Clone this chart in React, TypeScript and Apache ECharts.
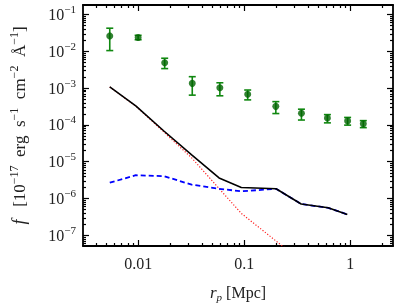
import React, { useEffect, useRef } from "react";
import * as echarts from "echarts";

// Observed data (r_p in Mpc, f in 1e-17 erg/s/cm^2/Å)
const rpObs = [0.0054, 0.01, 0.0178, 0.0324, 0.059, 0.108, 0.199, 0.347, 0.61, 0.946, 1.33];
const fObs = [0.0263, 0.0238, 0.00493, 0.00135, 0.00102, 0.000686, 0.00032, 0.000207, 0.000154, 0.000129, 0.000107];
const fLo = [0.0105, 0.0207, 0.0034, 0.000646, 0.00062, 0.00048, 0.000204, 0.000136, 0.000114, 0.0000989, 0.0000845];
const fHi = [0.0426, 0.0273, 0.0065, 0.00205, 0.0014, 0.00089, 0.00043, 0.000268, 0.000191, 0.00016, 0.000131];

// Model curves
const rpModel = [0.0054, 0.0095, 0.0175, 0.032, 0.058, 0.094, 0.2, 0.345, 0.62, 0.94];
const fTotal = [1.08e-3, 3.3e-4, 6.85e-5, 1.54e-5, 3.63e-6, 2.0e-6, 1.84e-6, 7.1e-7, 5.6e-7, 3.7e-7];
const fTwoHalo = [2.69e-6, 4.3e-6, 4.07e-6, 2.38e-6, 1.84e-6, 1.57e-6, 1.84e-6, 7.1e-7, 5.6e-7, 3.7e-7];
const rpOneHalo = [0.0054, 0.0095, 0.0175, 0.032, 0.058, 0.094, 0.2, 0.345];
const fOneHalo = [1.07e-3, 3.26e-4, 6.4e-5, 1.27e-5, 1.87e-6, 3.95e-7, 7e-8, 2e-8];

// Axis extents (log10 units)
const xMin = -2.52;
const xMax = 0.404;
const yMin = -7.29;
const yMax = -0.74;
const xMajor = [-2, -1, 0];
const xMajorLabels = ["0.01", "0.1", "1"];
const yMajor = [-7, -6, -5, -4, -3, -2, -1];

const lg = (v: number) => Math.log10(v);

function minorTicks(lo: number, hi: number): number[] {
  const out: number[] = [];
  for (let n = Math.floor(lo) - 1; n <= Math.ceil(hi); n++) {
    for (let k = 2; k <= 9; k++) {
      const v = n + Math.log10(k);
      if (v > lo && v < hi) out.push(v);
    }
  }
  return out;
}

const FONT = "Liberation Serif";
const TXT = "#222";

export default function App() {
  const ref = useRef<HTMLDivElement>(null);
  useEffect(() => {
    if (!ref.current) return;
    const chart = echarts.init(ref.current, undefined, { renderer: "svg" });
    const xMinor = minorTicks(xMin, xMax);
    const yMinor = minorTicks(yMin, yMax);
    const lineStyle = { color: "#000", width: 1.8 };
    const tickStyle = { color: "#000", width: 1.2 };

    const mkX = (position: string, major: boolean, main: boolean) => ({
      type: "value",
      position,
      min: xMin,
      max: xMax,
      splitLine: { show: false },
      axisLine: { show: major, onZero: false, lineStyle },
      axisTick: {
        show: true,
        inside: true,
        length: major ? 6 : 3,
        customValues: major ? xMajor : xMinor,
        lineStyle: tickStyle,
      },
      axisLabel: main
        ? {
            show: true,
            customValues: xMajor,
            margin: 9,
            fontFamily: FONT,
            fontSize: 16,
            color: TXT,
            formatter: (v: number) => {
              const i = xMajor.findIndex((m) => Math.abs(m - v) < 1e-6);
              return i >= 0 ? xMajorLabels[i] : "";
            },
          }
        : { show: false },
      ...(main
        ? {
            name: "{i|r}{sub|p} [Mpc]",
            nameLocation: "middle",
            nameGap: 36,
            nameTextStyle: {
              fontFamily: FONT,
              fontSize: 16,
              color: TXT,
              rich: {
                i: { fontFamily: FONT, fontSize: 17, fontStyle: "italic", color: TXT, lineHeight: 20 },
                sub: { fontFamily: FONT, fontSize: 11, fontStyle: "italic", color: TXT, verticalAlign: "bottom", lineHeight: 12 },
              },
            },
          }
        : {}),
    });

    const mkY = (position: string, major: boolean, main: boolean) => ({
      type: "value",
      position,
      min: yMin,
      max: yMax,
      splitLine: { show: false },
      axisLine: { show: major, onZero: false, lineStyle },
      axisTick: {
        show: true,
        inside: true,
        length: major ? 6 : 3,
        customValues: major ? yMajor : yMinor,
        lineStyle: tickStyle,
      },
      axisLabel: main
        ? {
            show: true,
            customValues: yMajor,
            margin: 7,
            fontFamily: FONT,
            color: TXT,
            formatter: (v: number) => `{b|10}{s|−${Math.round(-v)}}`,
            rich: {
              b: { fontFamily: FONT, fontSize: 16, color: TXT, lineHeight: 22 },
              s: { fontFamily: FONT, fontSize: 11, color: TXT, verticalAlign: "top", lineHeight: 12 },
            },
          }
        : { show: false },
      ...(main
        ? {
            name: "{i|f}   [10{s|−17}  erg  s{s|−1}  cm{s|−2}  Å{s|−1}]",
            nameLocation: "middle",
            nameRotate: 90,
            nameGap: 53,
            nameTextStyle: {
              fontFamily: FONT,
              fontSize: 17,
              color: TXT,
              rich: {
                i: { fontFamily: FONT, fontSize: 18, fontStyle: "italic", color: TXT, lineHeight: 22 },
                s: { fontFamily: FONT, fontSize: 12, color: TXT, verticalAlign: "top", lineHeight: 12 },
              },
            },
          }
        : {}),
    });

    const errData = rpObs.map((r, i) => [lg(r), lg(fLo[i]), lg(fHi[i])]);

    chart.setOption({
      animation: false,
      grid: { left: 67, right: 6, top: 5, bottom: 50, containLabel: false },
      xAxis: [mkX("bottom", true, true), mkX("bottom", false, false), mkX("top", true, false), mkX("top", false, false)],
      yAxis: [mkY("left", true, true), mkY("left", false, false), mkY("right", true, false), mkY("right", false, false)],
      series: [
        {
          type: "line",
          data: rpOneHalo.map((r, i) => [lg(r), lg(fOneHalo[i])]),
          showSymbol: false,
          symbol: "none",
          lineStyle: { color: "#ff2020", width: 1.2, type: [1.2, 1.8] },
          z: 2,
        },
        {
          type: "line",
          data: rpModel.map((r, i) => [lg(r), lg(fTwoHalo[i])]),
          showSymbol: false,
          symbol: "none",
          lineStyle: { color: "#0000ff", width: 1.8, type: [5, 3] },
          z: 3,
        },
        {
          type: "line",
          data: rpModel.map((r, i) => [lg(r), lg(fTotal[i])]),
          showSymbol: false,
          symbol: "none",
          lineStyle: { color: "#000", width: 1.6 },
          z: 4,
        },
        {
          type: "custom",
          data: errData,
          encode: { x: 0, y: [1, 2] },
          z: 5,
          renderItem: (params: any, api: any) => {
            const x = api.value(0);
            const lo = api.value(1);
            const hi = api.value(2);
            const a = api.coord([x, hi]);
            const b = api.coord([x, lo]);
            const w = 3.5;
            const st = { stroke: "#108810", lineWidth: 1.6 };
            return {
              type: "group",
              children: [
                { type: "line", shape: { x1: a[0], y1: a[1], x2: b[0], y2: b[1] }, style: st },
                { type: "line", shape: { x1: a[0] - w, y1: a[1], x2: a[0] + w, y2: a[1] }, style: st },
                { type: "line", shape: { x1: b[0] - w, y1: b[1], x2: b[0] + w, y2: b[1] }, style: st },
              ],
            };
          },
        },
        {
          type: "scatter",
          data: rpObs.map((r, i) => [lg(r), lg(fObs[i])]),
          symbol: "circle",
          symbolSize: 7,
          itemStyle: { color: "#006400" },
          z: 6,
        },
      ],
    });
    return () => chart.dispose();
  }, []);
  return <div ref={ref} style={{ position: "fixed", left: 0, top: 0, width: 399, height: 307 }} />;
}
